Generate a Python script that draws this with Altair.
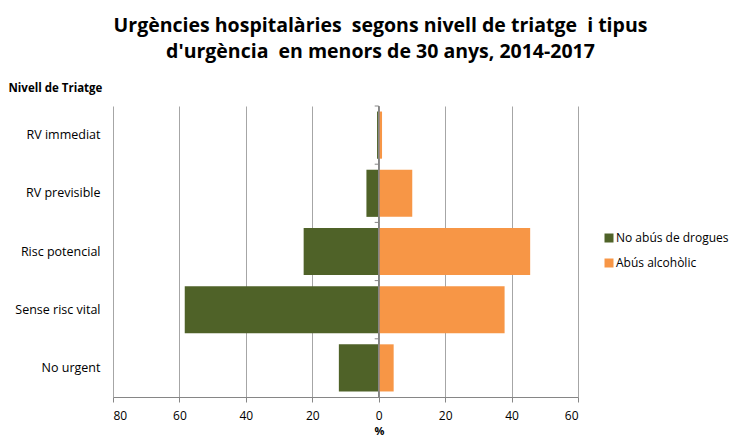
import altair as alt
import pandas as pd

categories = ["RV immediat", "RV previsible", "Risc potencial", "Sense risc vital", "No urgent"]
no_abus = [0.5, 3.7, 22.6, 58.4, 12.0]
alcohol = [1.0, 10.1, 45.6, 37.9, 4.5]
series = ["No abús de drogues", "Abús alcohòlic"]
x_ticks = [-80, -60, -40, -20, 0, 20, 40, 60]
title_lines = ["Urgències hospitalàries\u00a0 segons nivell de triatge\u00a0 i tipus",
               "d'urgència\u00a0 en menors de 30 anys, 2014-2017"]

rows = []
for c, a, b in zip(categories, no_abus, alcohol):
    rows.append({"cat": c, "serie": series[0], "val": -a})
    rows.append({"cat": c, "serie": series[1], "val": b})
df = pd.DataFrame(rows)
cats = pd.DataFrame({"cat": categories})

FONT = "Open Sans"

yscale = alt.Scale(domain=categories, paddingInner=0, paddingOuter=0)

bars = alt.Chart(df).mark_bar(height={"band": 0.81}).encode(
    x=alt.X("val:Q",
            scale=alt.Scale(domain=[-80, 60], nice=False),
            axis=alt.Axis(values=x_ticks, labelExpr="abs(datum.value)", title="%",
                          grid=True, gridColor="#A6A6A6", domainColor="#868686",
                          tickColor="#868686", tickSize=5, labelFontSize=12,
                          labelFont=FONT, labelColor="#000000", labelPadding=8,
                          titleFont=FONT, titleFontSize=11, titleFontWeight="bold",
                          titlePadding=4, titleColor="#000000", titleX=266)),
    y=alt.Y("cat:N", scale=yscale, sort=categories,
            axis=alt.Axis(title="Nivell de Triatge", ticks=False, domain=False,
                          labelPadding=13, labelFontSize=12.5, labelFont=FONT,
                          labelColor="#000000", titleAngle=0, titleAlign="left",
                          titleBaseline="middle", titleX=-105, titleY=-18,
                          titleFont=FONT, titleFontSize=11.5, titleFontWeight="bold",
                          titleColor="#000000")),
    color=alt.Color("serie:N",
                    scale=alt.Scale(domain=series, range=["#4F6228", "#F79646"]),
                    legend=alt.Legend(title=None, orient="none", legendX=490, legendY=126,
                                      symbolType="square", symbolSize=81,
                                      symbolStrokeWidth=0, labelFontSize=12,
                                      labelFont=FONT, labelColor="#000000",
                                      rowPadding=13, labelOffset=1)),
)

zero = alt.Chart(cats).mark_rule(color="#868686", strokeWidth=1).encode(x=alt.datum(0))

ticks = alt.Chart(cats).mark_rule(color="#868686", strokeWidth=1, xOffset=-4, x2Offset=0).encode(
    x=alt.datum(0), x2=alt.datum(0),
    y=alt.Y("cat:N", scale=yscale, sort=categories, bandPosition=0),
)

chart = alt.layer(bars, zero, ticks).properties(
    width=465, height=291,
    autosize=alt.AutoSizeParams(type="none"),
    padding={"left": 105, "top": 98, "right": 151, "bottom": 42},
    title=alt.Title(title_lines,
                    font=FONT, fontSize=19.5, fontWeight="bold", color="#000000",
                    anchor="middle", frame="group", dx=35, offset=20, lineHeight=26),
).configure_view(stroke=None)

chart.save("out.html", embed_options={"renderer": "svg", "actions": False})
